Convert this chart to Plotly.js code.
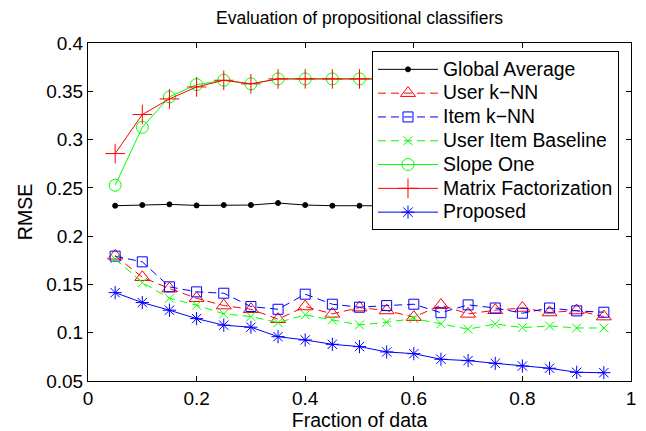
<!DOCTYPE html>
<html>
<head>
<meta charset="utf-8">
<script src="https://cdn.plot.ly/plotly-3.0.1.min.js"></script>
<style>
html,body{margin:0;padding:0;background:#fff;}
#chart{width:646px;height:431px;}
.legendtext{font-size:19.4px !important;}
</style>
</head>
<body>
<div id="chart"></div>
<script>
const fraction = [0.05,0.1,0.15,0.2,0.25,0.3,0.35,0.4,0.45,0.5,0.55,0.6,0.65,0.7,0.75,0.8,0.85,0.9,0.95];
const globalAverage = [0.2315,0.2322,0.2329,0.2318,0.2322,0.2322,0.2343,0.2322,0.2315,0.2315,0.2315,0.2318,0.2315,0.2318,0.2315,0.2318,0.2315,0.2318,0.2315];
const userKNN = [0.1796,0.1575,0.1457,0.1357,0.1281,0.1243,0.1140,0.1271,0.1195,0.1260,0.1230,0.1161,0.1286,0.1195,0.1233,0.1256,0.1209,0.1230,0.1167];
const itemKNN = [0.1793,0.1734,0.1475,0.1423,0.1409,0.1271,0.1243,0.1399,0.1295,0.1264,0.1281,0.1295,0.1207,0.1288,0.1256,0.1202,0.1256,0.1226,0.1212];
const userItemBaseline = [0.1765,0.1520,0.1357,0.1285,0.1195,0.1167,0.1105,0.1185,0.1132,0.1081,0.1108,0.1146,0.1093,0.1036,0.1091,0.1053,0.1070,0.1049,0.1049];
const slopeOne = [0.2527,0.3127,0.3442,0.3569,0.3614,0.3577,0.3628,0.3628,0.3628,0.3628,0.3628,0.3628,0.3628,0.3628,0.3628,0.3628,0.3628,0.3628,0.3628];
const matrixFactorization = [0.2855,0.3259,0.3421,0.3545,0.3614,0.3577,0.3628,0.3628,0.3628,0.3628,0.3628,0.3628,0.3628,0.3628,0.3628,0.3628,0.3628,0.3628,0.3628];
const proposed = [0.1415,0.1312,0.1233,0.1146,0.1078,0.1057,0.0959,0.0925,0.0880,0.0856,0.0801,0.0783,0.0725,0.0711,0.0683,0.0655,0.0632,0.0590,0.0586];
const seriesNames = ["Global Average","User k\u2212NN","Item k\u2212NN","User Item Baseline","Slope One","Matrix Factorization","Proposed"];

const dashed = "8px,5px";
function tr(y, name, color, dash, symbol, size) {
  return {
    x: fraction, y: y, name: name, type: 'scatter', mode: 'lines+markers',
    line: {color: color, width: 1, dash: dash},
    marker: {symbol: symbol, size: size, color: color, line: {color: color, width: 1}}
  };
}
const data = [
  tr(globalAverage, seriesNames[0], '#000000', 'solid', 'circle', 5),
  tr(userKNN, seriesNames[1], '#ff0000', dashed, 'triangle-up-open', 13),
  tr(itemKNN, seriesNames[2], '#0000ff', dashed, 'square-open', 10),
  tr(userItemBaseline, seriesNames[3], '#00ff00', dashed, 'x-thin-open', 9),
  tr(slopeOne, seriesNames[4], '#00ff00', 'solid', 'circle-open', 12),
  tr(matrixFactorization, seriesNames[5], '#ff0000', 'solid', 'cross-thin-open', 14),
  tr(proposed, seriesNames[6], '#0000ff', 'solid', 'asterisk-open', 11)
];
const fam = 'Liberation Sans, Arial, sans-serif';
const tickFont = {family: fam, color: '#000', size: 19};
const titleFont = {family: fam, color: '#000', size: 19.5};
const layout = {
  width: 646, height: 431,
  margin: {l: 88, r: 15, t: 43, b: 50},
  paper_bgcolor: '#fff', plot_bgcolor: '#fff',
  font: tickFont,
  title: {text: 'Evaluation of propositional classifiers', font: {family: fam, size: 17.5, color: '#000'}, x: 0.5565, xanchor: 'center', y: 0.958, yanchor: 'middle'},
  xaxis: {
    range: [0, 1], dtick: 0.2, tick0: 0, showgrid: false, zeroline: false,
    showline: true, linecolor: '#000', linewidth: 1, mirror: 'ticks',
    ticks: 'inside', ticklen: 5, tickcolor: '#000',
    title: {text: 'Fraction of data', font: titleFont, standoff: 8},
    tickfont: tickFont
  },
  yaxis: {
    range: [0.05, 0.4], dtick: 0.05, tick0: 0.05, showgrid: false, zeroline: false,
    showline: true, linecolor: '#000', linewidth: 1, mirror: 'ticks',
    ticks: 'inside', ticklen: 5, tickcolor: '#000',
    title: {text: 'RMSE', font: titleFont, standoff: 8},
    tickfont: tickFont
  },
  legend: {
    x: 0.523, y: 0.975, xanchor: 'left', yanchor: 'top',
    bgcolor: '#fff', bordercolor: '#000', borderwidth: 1,
    font: {family: fam, color: '#000', size: 16}, itemwidth: 60, tracegroupgap: 0
  },
  showlegend: true
};
Plotly.newPlot('chart', data, layout, {displayModeBar: false, staticPlot: true});
</script>
</body>
</html>
